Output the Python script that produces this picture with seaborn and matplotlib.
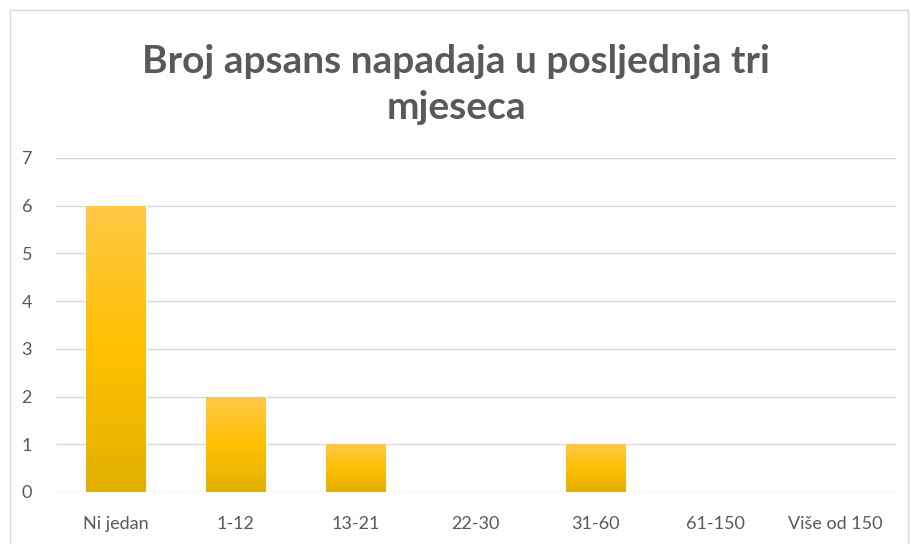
import numpy as np
import pandas as pd
import matplotlib
matplotlib.use('Agg')
import matplotlib.pyplot as plt
import seaborn as sns
from matplotlib.colors import LinearSegmentedColormap
from matplotlib.patches import Rectangle

categories = ['Ni jedan', '1-12', '13-21', '22-30', '31-60', '61-150', 'Više od 150']
counts = [6, 2, 1, 0, 1, 0, 0]
y_ticks = [0, 1, 2, 3, 4, 5, 6, 7]
title = 'Broj apsans napadaja u posljednja tri\nmjeseca'

df = pd.DataFrame({'kategorija': categories, 'broj': counts})

sns.set_theme(style='white')
plt.rcParams['font.family'] = ['Lato', 'DejaVu Sans']

fig = plt.figure(figsize=(9.12, 5.44), dpi=100)
ax = fig.add_axes([0.061, 0.0956, 0.921, 0.614])

sns.barplot(data=df, x='kategorija', y='broj', color='#ffc000', width=0.5, ax=ax, zorder=3)

# excel-like gradient on each bar
grad = LinearSegmentedColormap.from_list('g', ['#e2b000', '#ffc000', '#ffc845'])
for p in ax.patches:
    x0, y0 = p.get_x(), p.get_y()
    w, h = p.get_width(), p.get_height()
    if h <= 0:
        continue
    im = ax.imshow(np.linspace(0, 1, 100).reshape(-1, 1), cmap=grad, origin='lower',
                   extent=[x0, x0 + w, y0, y0 + h], aspect='auto', zorder=4)
    im.set_clip_path(p)

ax.set_xlim(-0.5, len(categories) - 0.5)
ax.set_ylim(0, 7)
ax.set_yticks(y_ticks)
ax.yaxis.grid(True, color='#d9d9d9', linewidth=1)
ax.set_axisbelow(True)
for s in ax.spines.values():
    s.set_visible(False)
ax.tick_params(axis='both', length=0, colors='#595959', labelsize=13)
ax.tick_params(axis='x', pad=17)
ax.tick_params(axis='y', pad=17)
ax.set_xlabel('')
ax.set_ylabel('')

fig.text(0.5, 0.845, title, ha='center', va='center', fontsize=28, fontweight='bold',
         color='#595959', linespacing=1.38)

fig.patches.append(Rectangle((0.011, -0.01), 0.985, 0.992, transform=fig.transFigure,
                             fill=False, edgecolor='#d9d9d9', linewidth=1))

plt.savefig('out.png', dpi=100)
